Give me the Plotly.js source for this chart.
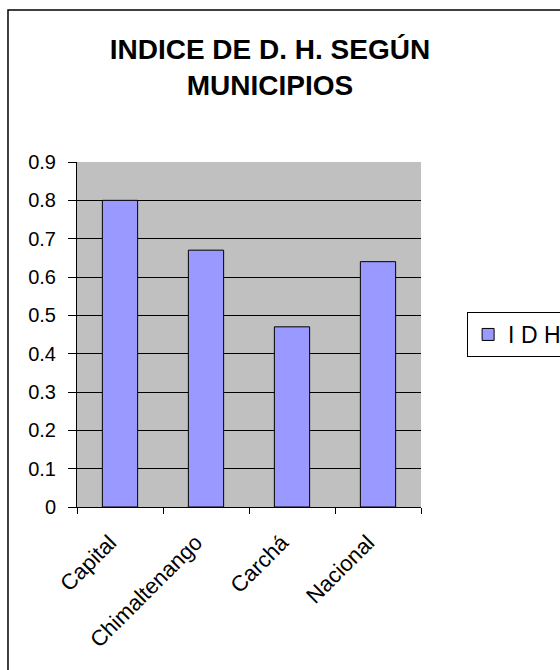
<!DOCTYPE html>
<html><head><meta charset="utf-8">
<script src="https://cdn.plot.ly/plotly-3.0.1.min.js"></script>
<style>html,body{margin:0;padding:0;background:#fff}</style>
</head><body><div id="chart" style="width:560px;height:670px"></div>
<script>
const categories = ["Capital", "Chimaltenango", "Carchá", "Nacional"];
const idhValues = [0.8, 0.67, 0.47, 0.64];
const seriesName = "I D H";
const yTicks = [0, 0.1, 0.2, 0.3, 0.4, 0.5, 0.6, 0.7, 0.8, 0.9];
const yTickLabels = ["0", "0.1", "0.2", "0.3", "0.4", "0.5", "0.6", "0.7", "0.8", "0.9"];

const font = "Arial, 'Liberation Sans', sans-serif";
Plotly.newPlot("chart", [{
  type: "bar", x: categories, y: idhValues, name: seriesName,
  marker: {color: "#9999ff", line: {color: "#000", width: 1}},
  showlegend: true
}], {
  width: 560, height: 670, autosize: false,
  margin: {l: 77, r: 139, t: 162, b: 163, autoexpand: false},
  paper_bgcolor: "#fff", plot_bgcolor: "#c0c0c0",
  bargap: 0.59,
  title: {text: "<b>INDICE DE D. H. SEGÚN<br>MUNICIPIOS</b>", font: {family: font, size: 28, color: "#000"},
          x: 0.482, xanchor: "center", y: 0.912, yanchor: "middle"},
  xaxis: {type: "category", tickson: "boundaries", ticks: "outside", ticklen: 6, tickcolor: "#000",
          showline: true, linecolor: "#000", linewidth: 1, showgrid: false, tickangle: -45,
          ticklabelshift: -10, ticklabelstandoff: 13,
          tickfont: {family: font, size: 22, color: "#000"}, fixedrange: true},
  yaxis: {range: [0, 0.9], tickvals: yTicks, ticktext: yTickLabels, ticks: "outside", ticklen: 8,
          tickcolor: "#000", showline: true, linecolor: "#000", linewidth: 1,
          showgrid: true, gridcolor: "#000", gridwidth: 1, zeroline: false, ticklabelstandoff: 8,
          tickfont: {family: font, size: 20, color: "#000"}, fixedrange: true},
  legend: {x: 1.134, xanchor: "left", y: 0.5, yanchor: "middle", bgcolor: "#fff",
           bordercolor: "#000", borderwidth: 1, font: {family: font, size: 23, color: "#000"},
           itemwidth: 30},
  shapes: [{type: "rect", xref: "paper", yref: "paper", x0: -0.2006, x1: 1.6, y0: -0.6, y1: 1.4406,
            line: {color: "#000", width: 1.5}, fillcolor: "rgba(0,0,0,0)", layer: "below"}]
}, {displayModeBar: false, staticPlot: true});
</script></body></html>
